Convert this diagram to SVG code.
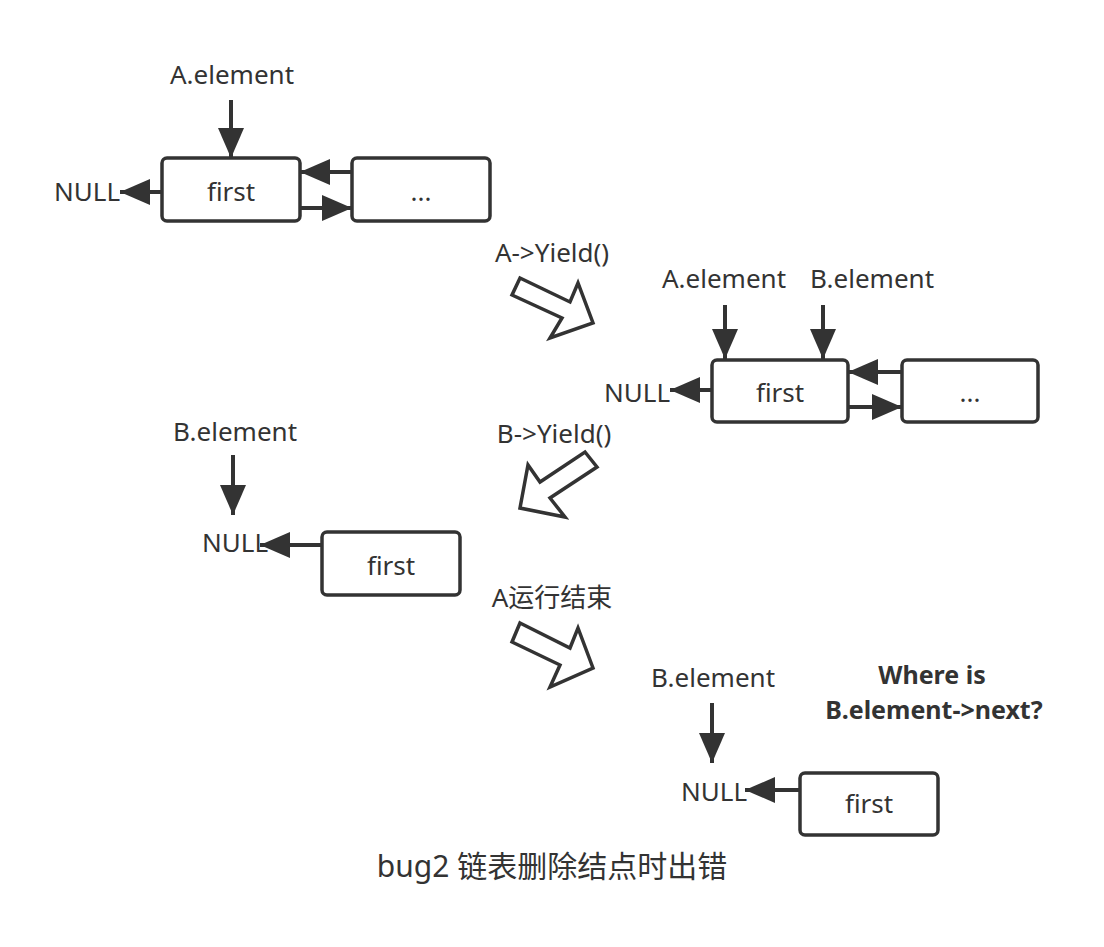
<svg xmlns="http://www.w3.org/2000/svg" width="1104" height="947" viewBox="0 0 1104 947">
<style>
text{font-family:"Noto Sans","Noto Sans CJK SC",sans-serif;fill:#333;font-size:26px}
.c{text-anchor:middle}
.b{font-weight:bold;font-size:25px}
.box{fill:#fff;stroke:#333;stroke-width:3.5}
.ln{stroke:#333;stroke-width:4;fill:none;marker-end:url(#ah)}
.hol{fill:#fff;stroke:#333;stroke-width:3.5;stroke-linejoin:miter}
</style>
<defs>
<marker id="ah" markerUnits="userSpaceOnUse" markerWidth="30" markerHeight="26" viewBox="0 0 30 26" refX="30" refY="13" orient="auto">
<path d="M0,0 L30,13 L0,26 z" fill="#333"/>
</marker>
</defs>
<rect width="1104" height="947" fill="#fff"/>

<g id="scene1">
<g id="s1-aelem"><text class="c" x="232" y="84">A.element</text></g>
<g id="s1-first"><rect class="box" x="162" y="158" width="138" height="63" rx="5"/><text class="c" x="231" y="201">first</text></g>
<g id="s1-dots"><rect class="box" x="352" y="158" width="138" height="63" rx="5"/><text class="c" x="421" y="201">...</text></g>
<g id="s1-null"><text x="54" y="201">NULL</text></g>
</g>

<g id="step1"><text class="c" x="552" y="262">A-&gt;Yield()</text>
<polygon class="hol" points="520,278 570,302 578,283 593,323 550,338 562,318 512,295"/></g>

<g id="scene2">
<g id="s2-aelem"><text class="c" x="724" y="288">A.element</text></g>
<g id="s2-belem"><text class="c" x="872" y="288">B.element</text></g>
<g id="s2-first"><rect class="box" x="712" y="360" width="136" height="62" rx="5"/><text class="c" x="780" y="402">first</text></g>
<g id="s2-dots"><rect class="box" x="902" y="360" width="136" height="62" rx="5"/><text class="c" x="970" y="402">...</text></g>
<g id="s2-null"><text x="604" y="402">NULL</text></g>
</g>

<g id="step2"><text class="c" x="554" y="443">B-&gt;Yield()</text>
<polygon class="hol" points="585,452 597,467 550,498 565,517 520,508 528,465 540,482"/></g>

<g id="scene3">
<g id="s3-belem"><text class="c" x="235" y="441">B.element</text></g>
<g id="s3-null"><text x="202" y="552">NULL</text></g>
<g id="s3-first"><rect class="box" x="322" y="532" width="138" height="63" rx="5"/><text class="c" x="391" y="575">first</text></g>
</g>

<g id="step3"><text class="c" x="552" y="607">A运行结束</text>
<polygon class="hol" points="520,623 570,648 578,628 593,668 550,687 560,665 512,642"/></g>

<g id="scene4">
<g id="s4-belem"><text class="c" x="713" y="687">B.element</text></g>
<g id="s4-q"><text class="c b" x="932" y="684">Where is</text><text class="c b" x="934" y="719">B.element-&gt;next?</text></g>
<g id="s4-null"><text x="681" y="801">NULL</text></g>
<g id="s4-first"><rect class="box" x="800" y="773" width="138" height="62" rx="5"/><text class="c" x="869" y="813">first</text></g>
</g>

<g id="caption"><text class="c" x="552" y="877" style="font-size:30px">bug2 链表删除结点时出错</text></g>

<g id="connectors">
<line class="ln" x1="231" y1="100" x2="231" y2="158"/>
<line class="ln" x1="162" y1="192" x2="120" y2="192"/>
<line class="ln" x1="352" y1="172" x2="300" y2="172"/>
<line class="ln" x1="300" y1="208" x2="352" y2="208"/>
<line class="ln" x1="725" y1="305" x2="725" y2="359"/>
<line class="ln" x1="823" y1="305" x2="823" y2="359"/>
<line class="ln" x1="712" y1="390" x2="670" y2="390"/>
<line class="ln" x1="902" y1="372" x2="848" y2="372"/>
<line class="ln" x1="848" y1="407" x2="902" y2="407"/>
<line class="ln" x1="233" y1="455" x2="233" y2="515"/>
<line class="ln" x1="322" y1="545" x2="260" y2="545"/>
<line class="ln" x1="712" y1="703" x2="712" y2="763"/>
<line class="ln" x1="800" y1="790" x2="745" y2="790"/>
</g>
</svg>
